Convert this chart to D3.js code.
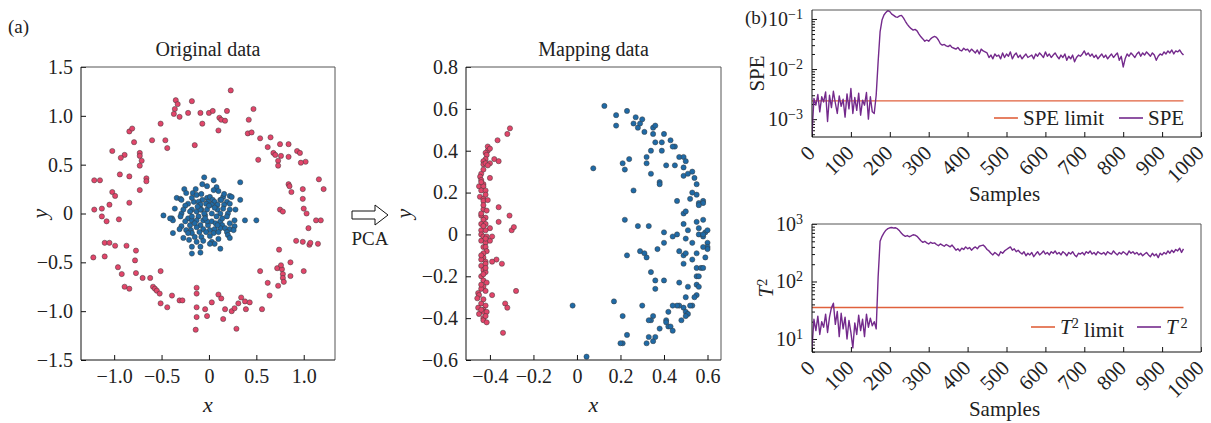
<!DOCTYPE html>
<html>
<head>
<meta charset="utf-8">
<script src="https://cdn.jsdelivr.net/npm/d3@7"></script>
<style>
body { margin: 0; background: #fff; }
svg { font-family: "Liberation Serif", "Times New Roman", serif; }
</style>
</head>
<body>
<svg id="chart" width="1211" height="423"></svg>
<script>
// ---- data ----
const origRing = [[0.23,1.26],[-0.35,1.16],[-0.33,1.12],[-0.36,1.07],[-0.37,1.02],[-0.31,0.99],[-0.18,1.15],[-0.22,1.03],[-0.09,1.03],[0.00,1.03],[0.04,1.05],[0.19,1.05],[0.11,0.98],[0.13,0.96],[0.17,0.95],[-0.07,0.92],[0.10,0.85],[0.47,1.07],[0.42,0.96],[0.41,0.82],[0.45,0.83],[0.54,0.77],[0.65,0.78],[0.62,0.68],[0.68,0.62],[0.70,0.60],[0.75,0.71],[0.84,0.71],[0.76,0.59],[0.73,0.54],[0.73,0.49],[0.84,0.58],[0.93,0.64],[0.96,0.62],[1.02,0.53],[0.97,0.52],[0.52,0.55],[-0.51,0.92],[-0.46,0.75],[-0.44,0.67],[-0.84,0.84],[-0.81,0.87],[-0.60,0.75],[-0.79,0.73],[-1.02,0.64],[-0.89,0.60],[-0.93,0.57],[-0.73,0.62],[-0.73,0.59],[-0.71,0.54],[-0.73,0.49],[-0.94,0.40],[-0.84,0.38],[-0.66,0.36],[-0.66,0.33],[-0.15,0.70],[-1.21,0.34],[-1.15,0.34],[-1.02,0.22],[-0.99,0.18],[-1.05,0.09],[-0.73,0.24],[-0.84,0.11],[0.84,0.30],[0.85,0.28],[0.87,0.22],[0.99,0.25],[0.99,0.15],[1.00,0.05],[1.16,0.35],[1.21,0.25],[1.13,-0.07],[1.18,-0.07],[1.03,0.00],[0.75,0.04],[0.78,0.02],[1.05,-0.15],[-1.21,0.04],[-1.13,0.05],[-1.13,-0.03],[-1.08,-0.08],[-0.95,-0.06],[-1.22,-0.45],[-1.10,-0.44],[-1.10,-0.30],[-1.05,-0.30],[-0.99,-0.33],[-0.87,-0.33],[-0.77,-0.38],[-0.78,-0.48],[-0.96,-0.55],[-0.92,-0.62],[-0.89,-0.75],[-0.84,-0.77],[-0.77,-0.61],[-0.70,-0.66],[-0.62,-0.66],[-0.51,-0.59],[-0.59,-0.75],[-0.57,-0.77],[-0.55,-0.79],[-0.52,-0.82],[-0.39,-0.84],[-0.51,-0.92],[-0.31,-0.89],[-0.28,-0.89],[-0.44,-0.96],[-0.13,-0.76],[-0.13,-0.82],[-0.13,-0.96],[-0.13,-1.06],[-0.14,-1.19],[-0.04,-0.98],[-0.02,-1.05],[0.03,-0.91],[0.10,-0.83],[0.13,-0.87],[0.15,-1.08],[0.17,-0.98],[0.24,-1.00],[0.27,-0.97],[0.31,-0.92],[0.34,-0.86],[0.38,-0.90],[0.43,-0.91],[0.29,-1.18],[0.39,-0.98],[0.56,-0.98],[0.54,-0.59],[0.62,-0.71],[0.64,-0.84],[0.74,-0.37],[0.72,-0.56],[0.77,-0.57],[0.78,-0.62],[0.78,-0.66],[0.79,-0.70],[0.76,-0.53],[0.86,-0.50],[0.86,-0.64],[0.73,-0.74],[0.92,-0.28],[0.99,-0.29],[1.00,-0.59],[1.06,-0.32],[1.07,-0.30],[1.15,-0.31]];

const origCore = [[-0.05,0.37],[0.05,0.34],[-0.07,0.30],[-0.02,0.28],[0.08,0.27],[0.33,0.32],[-0.26,0.25],[-0.14,0.25],[-0.24,0.21],[0.05,0.24],[0.10,0.23],[-0.17,0.21],[-0.34,0.16],[-0.30,0.15],[-0.13,0.19],[-0.02,0.16],[0.01,0.17],[-0.07,0.14],[0.04,0.14],[0.15,0.17],[0.22,0.18],[0.24,0.17],[-0.16,0.12],[-0.11,0.12],[-0.01,0.12],[0.06,0.12],[0.12,0.14],[0.19,0.12],[-0.09,0.09],[-0.03,0.10],[0.03,0.09],[0.09,0.09],[0.16,0.09],[0.22,0.10],[0.33,0.14],[-0.22,0.10],[-0.25,0.08],[-0.36,0.05],[-0.18,0.04],[-0.08,0.04],[-0.02,0.04],[0.09,0.04],[0.15,0.05],[0.22,0.04],[0.28,0.04],[-0.20,0.02],[-0.13,0.02],[0.03,0.00],[0.12,0.00],[0.20,0.00],[-0.48,-0.02],[-0.29,0.00],[-0.39,-0.05],[-0.38,-0.07],[-0.30,-0.03],[-0.22,-0.05],[-0.11,-0.03],[-0.04,-0.02],[0.08,-0.03],[0.19,-0.03],[0.27,-0.07],[0.38,-0.07],[0.50,-0.07],[-0.25,-0.08],[-0.18,-0.07],[-0.13,-0.07],[-0.06,-0.07],[0.03,-0.08],[0.12,-0.08],[0.22,-0.10],[-0.29,-0.13],[-0.20,-0.12],[-0.09,-0.12],[-0.01,-0.12],[0.07,-0.10],[0.14,-0.12],[-0.31,-0.16],[-0.38,-0.20],[-0.24,-0.17],[-0.19,-0.17],[-0.13,-0.14],[-0.06,-0.16],[0.01,-0.17],[0.06,-0.16],[0.12,-0.15],[0.17,-0.15],[0.22,-0.16],[0.27,-0.13],[-0.18,-0.20],[-0.10,-0.19],[-0.03,-0.19],[0.05,-0.20],[0.19,-0.19],[-0.27,-0.25],[-0.21,-0.27],[-0.15,-0.24],[-0.08,-0.24],[0.01,-0.23],[0.10,-0.26],[0.20,-0.22],[-0.13,-0.29],[-0.06,-0.28],[0.03,-0.29],[0.06,-0.31],[-0.18,-0.34],[-0.09,-0.34],[0.01,-0.31],[0.12,-0.36],[-0.18,-0.41],[-0.09,-0.40],[-0.29,0.14],[-0.18,0.16],[-0.41,-0.05],[0.22,-0.25],[0.13,0.14],[-0.05,0.00],[-0.09,0.04],[-0.02,-0.08],[0.10,-0.19],[-0.18,-0.03],[-0.27,0.04],[0.26,-0.17],[-0.12,0.07],[0.06,0.06],[-0.04,-0.05],[0.14,-0.05],[-0.22,-0.20],[0.16,0.20],[-0.08,0.20],[0.00,0.08],[0.09,-0.12],[-0.15,-0.10]];

const mapRing = [[-0.308,0.507],[-0.32,0.48],[-0.365,0.45],[-0.41,0.42],[-0.41,0.40],[-0.40,0.41],[-0.42,0.39],[-0.415,0.38],[-0.42,0.36],[-0.43,0.35],[-0.43,0.335],[-0.42,0.34],[-0.38,0.36],[-0.36,0.35],[-0.40,0.34],[-0.41,0.33],[-0.44,0.29],[-0.445,0.276],[-0.40,0.27],[-0.44,0.26],[-0.45,0.23],[-0.43,0.24],[-0.43,0.23],[-0.44,0.21],[-0.42,0.21],[-0.446,0.18],[-0.43,0.17],[-0.43,0.16],[-0.41,0.164],[-0.36,0.13],[-0.43,0.12],[-0.415,0.114],[-0.44,0.09],[-0.42,0.08],[-0.43,0.07],[-0.31,0.09],[-0.36,0.06],[-0.44,0.05],[-0.42,0.05],[-0.44,0.02],[-0.40,0.03],[-0.42,0.02],[-0.30,0.02],[-0.29,0.035],[-0.44,0.00],[-0.43,-0.01],[-0.415,-0.01],[-0.44,-0.03],[-0.42,-0.04],[-0.40,-0.03],[-0.39,-0.01],[-0.43,-0.06],[-0.42,-0.06],[-0.415,-0.08],[-0.43,-0.11],[-0.44,-0.12],[-0.42,-0.13],[-0.44,-0.15],[-0.42,-0.14],[-0.37,-0.12],[-0.39,-0.13],[-0.345,-0.14],[-0.43,-0.17],[-0.42,-0.18],[-0.44,-0.20],[-0.43,-0.22],[-0.415,-0.23],[-0.43,-0.25],[-0.44,-0.26],[-0.454,-0.28],[-0.45,-0.29],[-0.458,-0.305],[-0.39,-0.29],[-0.28,-0.27],[-0.44,-0.33],[-0.42,-0.34],[-0.43,-0.36],[-0.454,-0.35],[-0.43,-0.37],[-0.45,-0.38],[-0.415,-0.37],[-0.33,-0.33],[-0.32,-0.35],[-0.43,-0.40],[-0.43,-0.41],[-0.415,-0.42],[-0.34,-0.47],[-0.43,0.31],[-0.44,0.25],[-0.42,0.19],[-0.43,0.14],[-0.44,0.10],[-0.43,0.04],[-0.42,-0.02],[-0.43,-0.09],[-0.44,-0.10],[-0.42,-0.16],[-0.43,-0.19],[-0.44,-0.24],[-0.42,-0.27],[-0.43,-0.31],[-0.44,-0.36],[-0.42,-0.39]];

const mapCore = [[0.126,0.614],[0.18,0.57],[0.18,0.52],[0.23,0.59],[0.27,0.56],[0.28,0.51],[0.29,0.53],[0.30,0.55],[0.26,0.53],[0.31,0.49],[0.35,0.51],[0.36,0.52],[0.35,0.48],[0.40,0.48],[0.43,0.45],[0.45,0.42],[0.44,0.42],[0.36,0.44],[0.39,0.44],[0.39,0.40],[0.34,0.40],[0.32,0.37],[0.32,0.34],[0.24,0.36],[0.21,0.34],[0.22,0.31],[0.075,0.316],[0.41,0.33],[0.45,0.33],[0.49,0.32],[0.49,0.28],[0.47,0.37],[0.49,0.37],[0.50,0.35],[0.51,0.29],[0.53,0.30],[0.54,0.27],[0.55,0.24],[0.53,0.20],[0.55,0.19],[0.56,0.15],[0.58,0.16],[0.58,0.15],[0.56,0.14],[0.52,0.17],[0.46,0.16],[0.38,0.25],[0.38,0.24],[0.34,0.29],[0.26,0.21],[0.22,0.07],[0.28,0.04],[0.33,0.04],[0.49,0.10],[0.50,0.11],[0.49,0.05],[0.51,0.02],[0.55,0.06],[0.58,0.07],[0.56,0.00],[0.58,-0.01],[0.59,0.01],[0.60,0.02],[0.60,-0.04],[0.60,-0.06],[0.60,-0.07],[0.58,-0.06],[0.50,-0.02],[0.46,0.00],[0.44,-0.01],[0.40,0.01],[0.40,-0.04],[0.37,-0.07],[0.29,-0.08],[0.31,-0.09],[0.23,-0.10],[0.32,-0.11],[0.34,-0.18],[0.36,-0.22],[0.40,-0.22],[0.36,-0.26],[0.47,-0.08],[0.49,-0.10],[0.50,-0.09],[0.49,-0.14],[0.53,-0.12],[0.55,-0.09],[0.55,-0.16],[0.57,-0.16],[0.59,-0.11],[0.58,-0.16],[0.55,-0.20],[0.56,-0.20],[0.55,-0.24],[0.56,-0.25],[0.51,-0.25],[0.47,-0.23],[0.55,-0.29],[0.54,-0.30],[0.50,-0.30],[0.53,-0.34],[0.52,-0.34],[0.49,-0.35],[0.50,-0.37],[0.51,-0.38],[0.50,-0.39],[0.47,-0.34],[0.46,-0.34],[0.44,-0.34],[0.42,-0.37],[0.48,-0.41],[0.30,-0.34],[0.17,-0.32],[0.21,-0.39],[0.35,-0.39],[0.34,-0.41],[0.41,-0.41],[0.41,-0.42],[0.42,-0.44],[0.33,-0.41],[0.23,-0.48],[0.33,-0.49],[0.35,-0.51],[0.36,-0.49],[0.38,-0.45],[0.43,-0.44],[0.44,-0.46],[0.21,-0.52],[0.20,-0.52],[0.32,-0.52],[-0.02,-0.34],[0.044,-0.584],[0.56,0.03],[0.58,0.00],[0.53,-0.04]];

// SPE and T2 statistics, one value every 5 samples (sample 0 .. 955)
const sampleStep = 5;
const speValues = [0.0005,0.0026,0.0019,0.0031,0.0014,0.0028,0.0022,0.0035,0.0009,0.0030,0.0017,0.0036,0.0021,0.0013,0.0029,0.0018,0.0025,0.0011,0.0032,0.0016,0.0041,0.0013,0.0027,0.0015,0.0033,0.0012,0.0024,0.0019,0.0034,0.0010,0.0028,0.0014,0.0013,0.0030,0.014,0.055,0.095,0.12,0.135,0.148,0.14,0.125,0.118,0.11,0.108,0.115,0.118,0.105,0.09,0.078,0.07,0.064,0.06,0.062,0.058,0.05,0.044,0.04,0.036,0.038,0.036,0.040,0.043,0.045,0.043,0.038,0.032,0.030,0.031,0.029,0.028,0.030,0.027,0.026,0.025,0.027,0.024,0.023,0.026,0.024,0.025,0.022,0.025,0.023,0.021,0.024,0.020,0.025,0.023,0.022,0.021,0.017,0.019,0.016,0.020,0.018,0.019,0.016,0.021,0.017,0.020,0.018,0.022,0.016,0.019,0.021,0.017,0.019,0.016,0.018,0.020,0.017,0.018,0.019,0.016,0.020,0.018,0.021,0.019,0.017,0.022,0.018,0.020,0.017,0.019,0.021,0.018,0.016,0.019,0.017,0.020,0.015,0.018,0.016,0.019,0.014,0.017,0.019,0.018,0.020,0.023,0.019,0.021,0.018,0.020,0.017,0.019,0.016,0.018,0.020,0.017,0.019,0.016,0.018,0.020,0.017,0.019,0.021,0.015,0.018,0.011,0.016,0.020,0.018,0.021,0.019,0.017,0.020,0.022,0.018,0.021,0.019,0.022,0.020,0.018,0.021,0.019,0.015,0.018,0.020,0.019,0.022,0.020,0.023,0.021,0.024,0.020,0.023,0.022,0.024,0.021,0.019];
const speLimit = 0.00232;

const t2Values = [7,22,14,25,12,20,16,27,13,24,35,42,18,30,11,28,15,24,10,21,13,7,19,12,26,14,22,11,27,16,23,17,20,15,120,500,610,700,780,830,860,870,850,860,820,760,690,640,610,630,600,620,650,640,610,560,510,480,500,470,450,480,460,470,440,420,450,430,410,440,420,400,430,390,350,370,340,380,360,400,370,390,350,380,400,370,410,420,430,400,360,340,310,290,320,300,280,330,310,340,360,380,400,350,370,330,350,320,300,330,280,310,290,320,270,300,330,290,310,340,300,320,290,330,310,340,300,320,290,330,310,280,320,300,330,290,270,310,300,320,290,330,310,340,300,320,290,330,310,300,320,290,330,310,300,340,310,290,320,300,330,310,290,340,310,330,300,320,290,310,280,300,320,290,270,310,280,300,260,310,290,320,300,340,310,350,320,360,340,380,320,370];
const t2Limit = 35.3;

const sampleTicks = d3.range(0, 1001, 100);

// ---- drawing ----
const RED = '#e2456a';
const BLUE = '#1f6aa6';
const PURPLE = '#742a8c';
const ORANGE = '#e0613c';

const svg = d3.select('#chart');
const fmt1 = d => (d === 0 ? '0' : d3.format('.1f')(d));

function frame(g, l, r, t, b) {
    g.append('line').attr('x1', l).attr('x2', r).attr('y1', t).attr('y2', t).attr('stroke', '#555');
    g.append('line').attr('x1', r).attr('x2', r).attr('y1', t).attr('y2', b).attr('stroke', '#555');
    g.append('line').attr('x1', l).attr('x2', r).attr('y1', b).attr('y2', b).attr('stroke', '#111');
    g.append('line').attr('x1', l).attr('x2', l).attr('y1', t).attr('y2', b).attr('stroke', '#111');
}

function styleAxis(sel, size) {
    sel.select('.domain').remove();
    sel.selectAll('.tick line').attr('stroke', '#111');
    sel.selectAll('text').attr('font-family', '"Liberation Serif", serif').attr('font-size', size).attr('fill', '#222');
}

function scatter(o) {
    const x = d3.scaleLinear().domain(o.xDomain).range([o.left, o.right]);
    const y = d3.scaleLinear().domain(o.yDomain).range([o.bottom, o.top]);
    const g = svg.append('g');

    g.append('g').attr('transform', `translate(0,${o.bottom})`)
        .call(d3.axisBottom(x).tickValues(o.xTicks).tickSize(-5).tickPadding(9).tickFormat(fmt1))
        .call(s => styleAxis(s, 20));
    g.append('g').attr('transform', `translate(${o.left},0)`)
        .call(d3.axisLeft(y).tickValues(o.yTicks).tickSize(-5).tickPadding(8).tickFormat(fmt1))
        .call(s => styleAxis(s, 20));

    o.groups.forEach(grp => {
        g.append('g').selectAll('circle').data(grp.points).join('circle')
            .attr('cx', d => x(d[0])).attr('cy', d => y(d[1])).attr('r', 2.6)
            .attr('fill', grp.color).attr('stroke', '#3a3a3a').attr('stroke-width', 0.5);
    });

    frame(g, o.left, o.right, o.top, o.bottom);

    g.append('text').attr('x', (o.left + o.right) / 2).attr('y', o.top - 11)
        .attr('text-anchor', 'middle').attr('font-size', 20).attr('fill', '#222').text(o.title);
    g.append('text').attr('x', (o.left + o.right) / 2).attr('y', o.bottom + 52)
        .attr('text-anchor', 'middle').attr('font-size', 22).attr('font-style', 'italic').attr('fill', '#222').text('x');
    g.append('text').attr('transform', `translate(${o.yLabelX},${(o.top + o.bottom) / 2}) rotate(-90)`)
        .attr('text-anchor', 'middle').attr('dy', '0.3em').attr('font-size', 22).attr('font-style', 'italic').attr('fill', '#222').text('y');
}

scatter({
    left: 81, right: 335, top: 67, bottom: 360,
    xDomain: [-1.35, 1.33], yDomain: [-1.5, 1.5],
    xTicks: [-1, -0.5, 0, 0.5, 1], yTicks: [-1.5, -1, -0.5, 0, 0.5, 1, 1.5],
    title: 'Original data', yLabelX: 40,
    groups: [{ points: origRing, color: RED }, { points: origCore, color: BLUE }]
});

scatter({
    left: 466, right: 721, top: 67, bottom: 360,
    xDomain: [-0.51, 0.662], yDomain: [-0.6, 0.8],
    xTicks: [-0.4, -0.2, 0, 0.2, 0.4, 0.6], yTicks: [-0.6, -0.4, -0.2, 0, 0.2, 0.4, 0.6, 0.8],
    title: 'Mapping data', yLabelX: 404,
    groups: [{ points: mapRing, color: RED }, { points: mapCore, color: BLUE }]
});

// PCA arrow between the scatter plots
svg.append('path')
    .attr('d', 'M352,211 H375 V205 L388,215 L375,225 V219 H352 Z')
    .attr('fill', '#fff').attr('stroke', '#111').attr('stroke-width', 1);
svg.append('text').attr('x', 370).attr('y', 245).attr('text-anchor', 'middle')
    .attr('font-size', 19).attr('fill', '#222').text('PCA');

svg.append('text').attr('x', 8).attr('y', 33).attr('font-size', 19).attr('fill', '#222').text('(a)');
svg.append('text').attr('x', 745).attr('y', 24).attr('font-size', 19).attr('fill', '#222').text('(b)');

function powerLabel(sel, base, exp) {
    sel.text('');
    sel.append('tspan').text(base);
    sel.append('tspan').attr('dy', '-0.5em').attr('font-size', '0.7em').text(exp);
}

function linePanel(o) {
    const x = d3.scaleLinear().domain([0, 1000]).range([o.left, o.right]);
    const y = d3.scaleLog().domain(o.yDomain).range([o.bottom, o.top]);
    const g = svg.append('g');
    const clipId = 'clip' + o.id;
    g.append('clipPath').attr('id', clipId).append('rect')
        .attr('x', o.left).attr('y', o.top).attr('width', o.right - o.left).attr('height', o.bottom - o.top);

    // minor + major log ticks
    const minor = [];
    for (let k = Math.floor(Math.log10(o.yDomain[0])); k <= Math.ceil(Math.log10(o.yDomain[1])); k++) {
        for (let m = 2; m <= 9; m++) {
            const v = m * Math.pow(10, k);
            if (v > o.yDomain[0] && v < o.yDomain[1]) minor.push(v);
        }
    }
    g.append('g').attr('transform', `translate(${o.left},0)`)
        .call(d3.axisLeft(y).tickValues(minor).tickSize(-3).tickFormat(''))
        .call(s => styleAxis(s, 20));
    g.append('g').attr('transform', `translate(${o.left},0)`)
        .call(d3.axisLeft(y).tickValues(o.decades).tickSize(-5).tickPadding(9))
        .call(s => styleAxis(s, 20))
        .call(s => s.selectAll('.tick text').each(function (d) {
            powerLabel(d3.select(this), '10', d3.format('')(Math.round(Math.log10(d))).replace('-', '\u2212'));
        }));

    g.append('g').attr('transform', `translate(0,${o.bottom})`)
        .call(d3.axisBottom(x).tickValues(sampleTicks).tickSize(-5).tickFormat(''))
        .call(s => styleAxis(s, 20));
    g.append('g').selectAll('text').data(sampleTicks).join('text')
        .attr('transform', d => `translate(${x(d) - 1},${o.bottom + 12}) rotate(-45)`)
        .attr('text-anchor', 'end').attr('dy', '0.35em')
        .attr('font-size', 21).attr('fill', '#222').text(d => d);

    const samples = o.values.map((v, i) => i * sampleStep);
    const lastSample = samples[samples.length - 1];

    g.append('line').attr('clip-path', `url(#${clipId})`)
        .attr('x1', x(0)).attr('x2', x(lastSample)).attr('y1', y(o.limit)).attr('y2', y(o.limit))
        .attr('stroke', ORANGE).attr('stroke-width', 1.4);

    const line = d3.line().x((d, i) => x(samples[i])).y(d => y(d));
    g.append('path').datum(o.values).attr('clip-path', `url(#${clipId})`)
        .attr('d', line).attr('fill', 'none').attr('stroke', PURPLE).attr('stroke-width', 1.4)
        .attr('stroke-linejoin', 'round');

    frame(g, o.left, o.right, o.top, o.bottom);

    // y label
    const yl = g.append('text')
        .attr('transform', `translate(${o.yLabelX},${(o.top + o.bottom) / 2}) rotate(-90)`)
        .attr('text-anchor', 'middle').attr('dy', '0.35em').attr('font-size', 21).attr('fill', '#222');
    o.yLabel(yl);

    g.append('text').attr('x', (o.left + o.right) / 2 - 2).attr('y', o.bottom + 64)
        .attr('text-anchor', 'middle').attr('font-size', 21).attr('fill', '#222').text('Samples');

    // legend
    const ly = o.legend.y;
    o.legend.items.forEach(it => {
        g.append('line').attr('x1', it.x).attr('x2', it.x + 24).attr('y1', ly).attr('y2', ly)
            .attr('stroke', it.color).attr('stroke-width', 1.6);
        const t = g.append('text').attr('x', it.x + 29).attr('y', ly).attr('dy', '0.33em')
            .attr('font-size', 21).attr('fill', '#222');
        it.label(t);
    });
}

function tSquared(sel, gap, tail) {
    sel.append('tspan').attr('font-style', 'italic').text('T');
    sel.append('tspan').attr('dy', '-0.45em').attr('font-size', '0.68em').text((gap ? '\u2009' : '') + '2');
    if (tail) sel.append('tspan').attr('dy', '0.45em').text(tail);
}

linePanel({
    id: 'spe', left: 812, right: 1201, top: 10, bottom: 137,
    yDomain: [0.00044, 0.151], decades: [0.001, 0.01, 0.1],
    values: speValues, limit: speLimit, yLabelX: 757,
    yLabel: t => t.text('SPE'),
    legend: {
        y: 118, items: [
            { x: 994, color: ORANGE, label: t => t.text('SPE limit') },
            { x: 1119, color: PURPLE, label: t => t.text('SPE') }
        ]
    }
});

linePanel({
    id: 't2', left: 812, right: 1201, top: 224, bottom: 352,
    yDomain: [5.94, 1000], decades: [10, 100, 1000],
    values: t2Values, limit: t2Limit, yLabelX: 766,
    yLabel: t => tSquared(t, false),
    legend: {
        y: 327, items: [
            { x: 1031, color: ORANGE, label: t => tSquared(t, false, ' limit') },
            { x: 1137, color: PURPLE, label: t => tSquared(t, true) }
        ]
    }
});
</script>
</body>
</html>
